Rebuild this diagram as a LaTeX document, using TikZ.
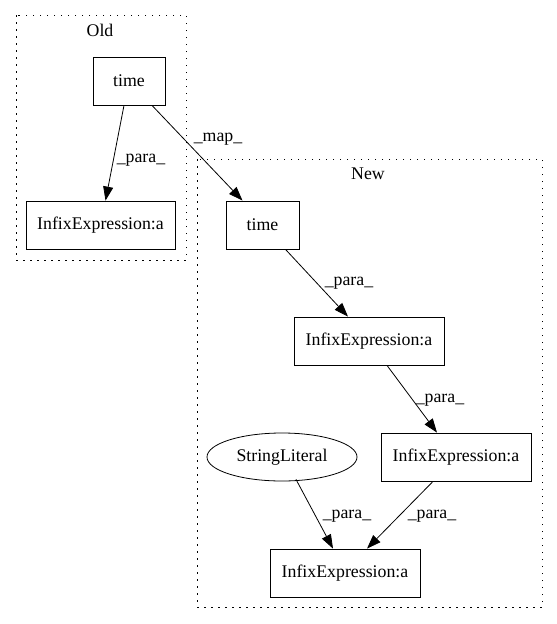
\documentclass[tikz,border=0pt]{standalone}
\usepackage{fontspec}
\setmainfont{Liberation Serif}
\usetikzlibrary{arrows.meta,shapes.geometric}
\begin{document}
\begin{tikzpicture}[x=1pt,y=-1pt,
  box/.style={draw,line width=0.8pt,minimum width=#1,minimum height=48pt,inner sep=0pt,font=\fontsize{17.8}{20}\selectfont},
  ell/.style={draw,ellipse,line width=0.8pt,minimum width=150pt,minimum height=48pt,inner sep=0pt,font=\fontsize{17.8}{20}\selectfont},
  cluster/.style={draw,line width=1pt,dash pattern=on 1.5pt off 5.5pt},
  lbl/.style={font=\fontsize{17.8}{20}\selectfont,inner sep=0pt},
  edge/.style={draw,line width=0.8pt,-{Triangle[length=14pt,width=10pt]}}]
\useasboundingbox (0,0) rectangle (557,624);
\fill[white] (0,0) rectangle (557,624);
% clusters
\draw[cluster] (16,15) rectangle (186,260);
\node[lbl] (oldlbl) at (100,30) {Old};
\draw[cluster] (197,159) rectangle (542,607);
\node[lbl] (newlbl) at (368,174) {New};
% nodes
\node[box=72pt] (oldtime) at (129,81) {time};
\node[box=149pt] (oldinfix) at (100.5,225) {InfixExpression:a};
\node[box=73pt] (newtime) at (262.5,225) {time};
\node[box=150pt] (infixb) at (369,341) {InfixExpression:a};
\node[box=150pt] (infixc) at (456,457) {InfixExpression:a};
\node[ell] (sl) at (282,457) {StringLiteral};
\node[box=150pt] (infixd) at (345,573) {InfixExpression:a};
% edges
\draw[edge] ([xshift=-5pt]oldtime.south) -- ([xshift=5pt]oldinfix.north);
\draw[edge] ([xshift=23pt]oldtime.south) -- ([xshift=-20pt]newtime.north);
\draw[edge] ([xshift=23pt]newtime.south) -- ([xshift=-21pt]infixb.north);
\draw[edge] ([xshift=18pt]infixb.south) -- ([xshift=-19pt]infixc.north);
\draw[edge] ([xshift=14pt,yshift=2pt]sl.south) -- ([xshift=-12pt]infixd.north);
\draw[edge] ([xshift=-23pt]infixc.south) -- ([xshift=22pt]infixd.north);
% edge labels
\node[lbl] (l1) at (141,160) {\_para\_};
\node[lbl] (l2) at (218,139) {\_map\_};
\node[lbl] (l3) at (349,283) {\_para\_};
\node[lbl] (l4) at (440,400) {\_para\_};
\node[lbl] (l5) at (347,516) {\_para\_};
\node[lbl] (l6) at (432,516) {\_para\_};
\end{tikzpicture}
\end{document}
